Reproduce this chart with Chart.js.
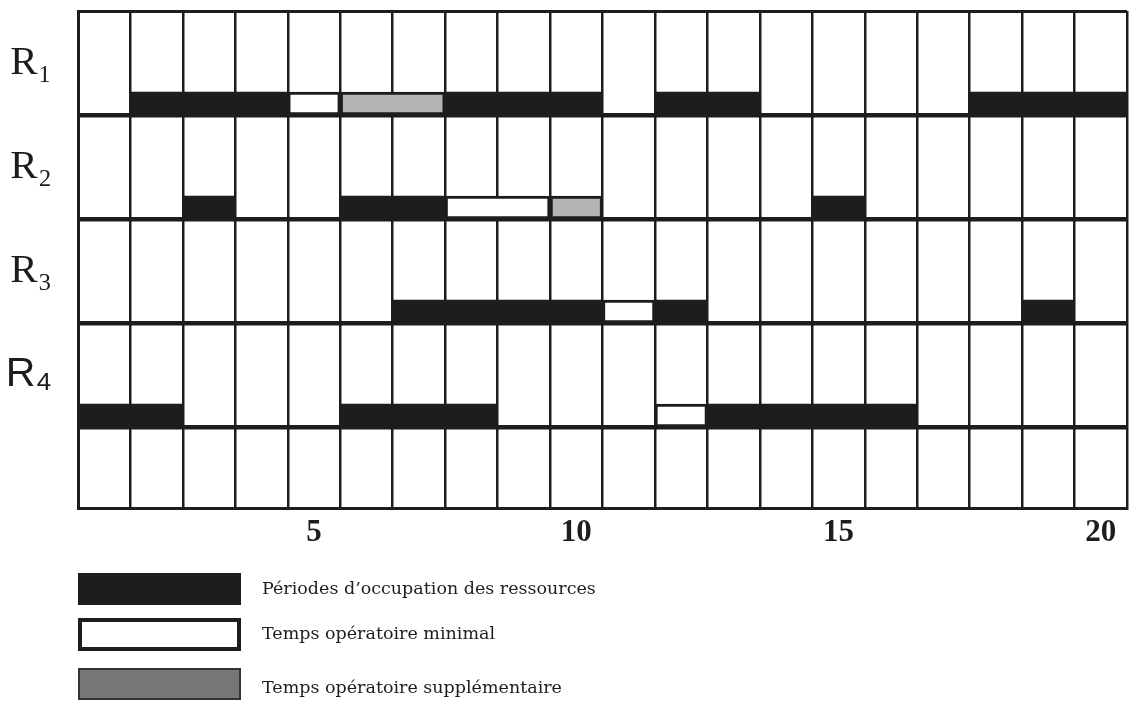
<!DOCTYPE html>
<html>
<head>
<meta charset="utf-8">
<script src="https://cdn.jsdelivr.net/npm/chart.js@4"></script>
<style>
  html, body { margin: 0; padding: 0; background: #fff; }
  #wrap { width: 1132px; height: 710px; }
</style>
</head>
<body>
<div id="wrap"><canvas id="gantt"></canvas></div>
<script>
const rows = ['R₁', 'R₂', 'R₃', 'R₄']
const xTickLabels = ['5', '10', '15', '20']
const seriesNames = ['Périodes d’occupation des ressources', 'Temps opératoire minimal', 'Temps opératoire supplémentaire']

// [row, start, end] in time units (20 periods)
const busy = [[0, 1, 4], [0, 7, 10], [0, 11, 13], [0, 17, 20],
  [1, 2, 3], [1, 5, 7], [1, 14, 15],
  [2, 6, 10], [2, 11, 12], [2, 18, 19],
  [3, 0, 2], [3, 5, 8], [3, 12, 16]]
const minimal = [[0, 4, 5], [1, 7, 9], [2, 10, 11], [3, 11, 12]]
const extra = [[0, 5, 7], [1, 9, 10]]

const ink = '#1d1d1d'
const barDepth = 0.22   // bar height in row units, bars sit on the row's bottom line

const toBars = list => list.map(([r, a, b]) => ({ y: r + 1 - barDepth / 2, x: [a, b] }))
const tickVal = c => (c.tick ? c.tick.value : 0)
const onLine = c => Number.isInteger(tickVal(c))

const legendBlock = {
  id: 'legendBlock',
  afterDraw(chart) {
    const { ctx, chartArea } = chart
    const left = chartArea.left
    const swatches = [
      { dy: 65, h: 32, fill: ink, stroke: null, lw: 0 },
      { dy: 110, h: 33, fill: '#fff', stroke: ink, lw: 4 },
      { dy: 160, h: 32, fill: '#767676', stroke: '#333', lw: 2 }
    ]
    ctx.save()
    swatches.forEach((s, i) => {
      const top = chartArea.bottom + s.dy
      ctx.fillStyle = s.fill
      ctx.fillRect(left, top, 163, s.h)
      if (s.stroke) {
        ctx.strokeStyle = s.stroke
        ctx.lineWidth = s.lw
        ctx.strokeRect(left + s.lw / 2, top + s.lw / 2, 163 - s.lw, s.h - s.lw)
      }
      ctx.fillStyle = ink
      ctx.font = '17.5px "DejaVu Serif"'
      ctx.textBaseline = 'middle'
      ctx.fillText(chart.data.datasets[i].label, left + 184, top + s.h / 2 + (i === 2 ? 4 : 0))
    })
    ctx.restore()
  }
}

const halfTicks = (scale, max) => {
  scale.ticks = []
  for (let v = 0; v <= max; v += 0.5) scale.ticks.push({ value: v })
}

new Chart(document.getElementById('gantt'), {
  type: 'bar',
  data: {
    datasets: [
      { label: seriesNames[0], data: toBars(busy), backgroundColor: ink, borderWidth: 0 },
      { label: seriesNames[1], data: toBars(minimal), backgroundColor: '#fff', borderColor: ink, borderWidth: 3 },
      { label: seriesNames[2], data: toBars(extra), backgroundColor: '#b4b4b4', borderColor: ink, borderWidth: 3 }
    ]
  },
  options: {
    indexAxis: 'y',
    responsive: true,
    maintainAspectRatio: false,
    animation: false,
    datasets: { bar: { grouped: false, barThickness: 23, borderSkipped: false } },
    layout: { padding: { top: 11, right: 5, bottom: 160, left: 0 } },
    plugins: { legend: { display: false }, tooltip: { enabled: false } },
    scales: {
      x: {
        type: 'linear', min: 0, max: 20,
        afterBuildTicks: s => halfTicks(s, 20),
        afterFit: s => { s.height = 42; s.paddingLeft = 0; s.paddingRight = 0 },
        grid: { color: c => onLine(c) ? ink : 'transparent', lineWidth: 2.5, drawTicks: false },
        border: { color: ink, width: 3 },
        ticks: {
          autoSkip: false, maxRotation: 0, padding: 6, color: ink,
          font: { family: 'Liberation Serif', size: 31, weight: 'bold' },
          callback: v => {
            const i = xTickLabels.findIndex(l => Number(l) - 0.5 === v)
            return i < 0 ? '' : xTickLabels[i]
          }
        }
      },
      y: {
        type: 'linear', reverse: true, min: 0, max: 4.78,
        offset: false,
        afterBuildTicks: s => halfTicks(s, 4),
        afterFit: s => { s.width = 78; s.paddingTop = 0; s.paddingBottom = 0 },
        grid: {
          offset: false,
          color: c => onLine(c) ? ink : 'transparent',
          lineWidth: c => tickVal(c) === 0 ? 3 : 4.5,
          drawTicks: false
        },
        border: { color: ink, width: 3 },
        ticks: {
          autoSkip: false, padding: 26, color: ink,
          font: c => ({ family: tickVal(c) === 3.5 ? 'Liberation Sans' : 'Liberation Serif', size: 41 }),
          callback: v => rows[v - 0.5] ?? ''
        }
      }
    }
  },
  plugins: [legendBlock]
})
</script>
</body>
</html>
